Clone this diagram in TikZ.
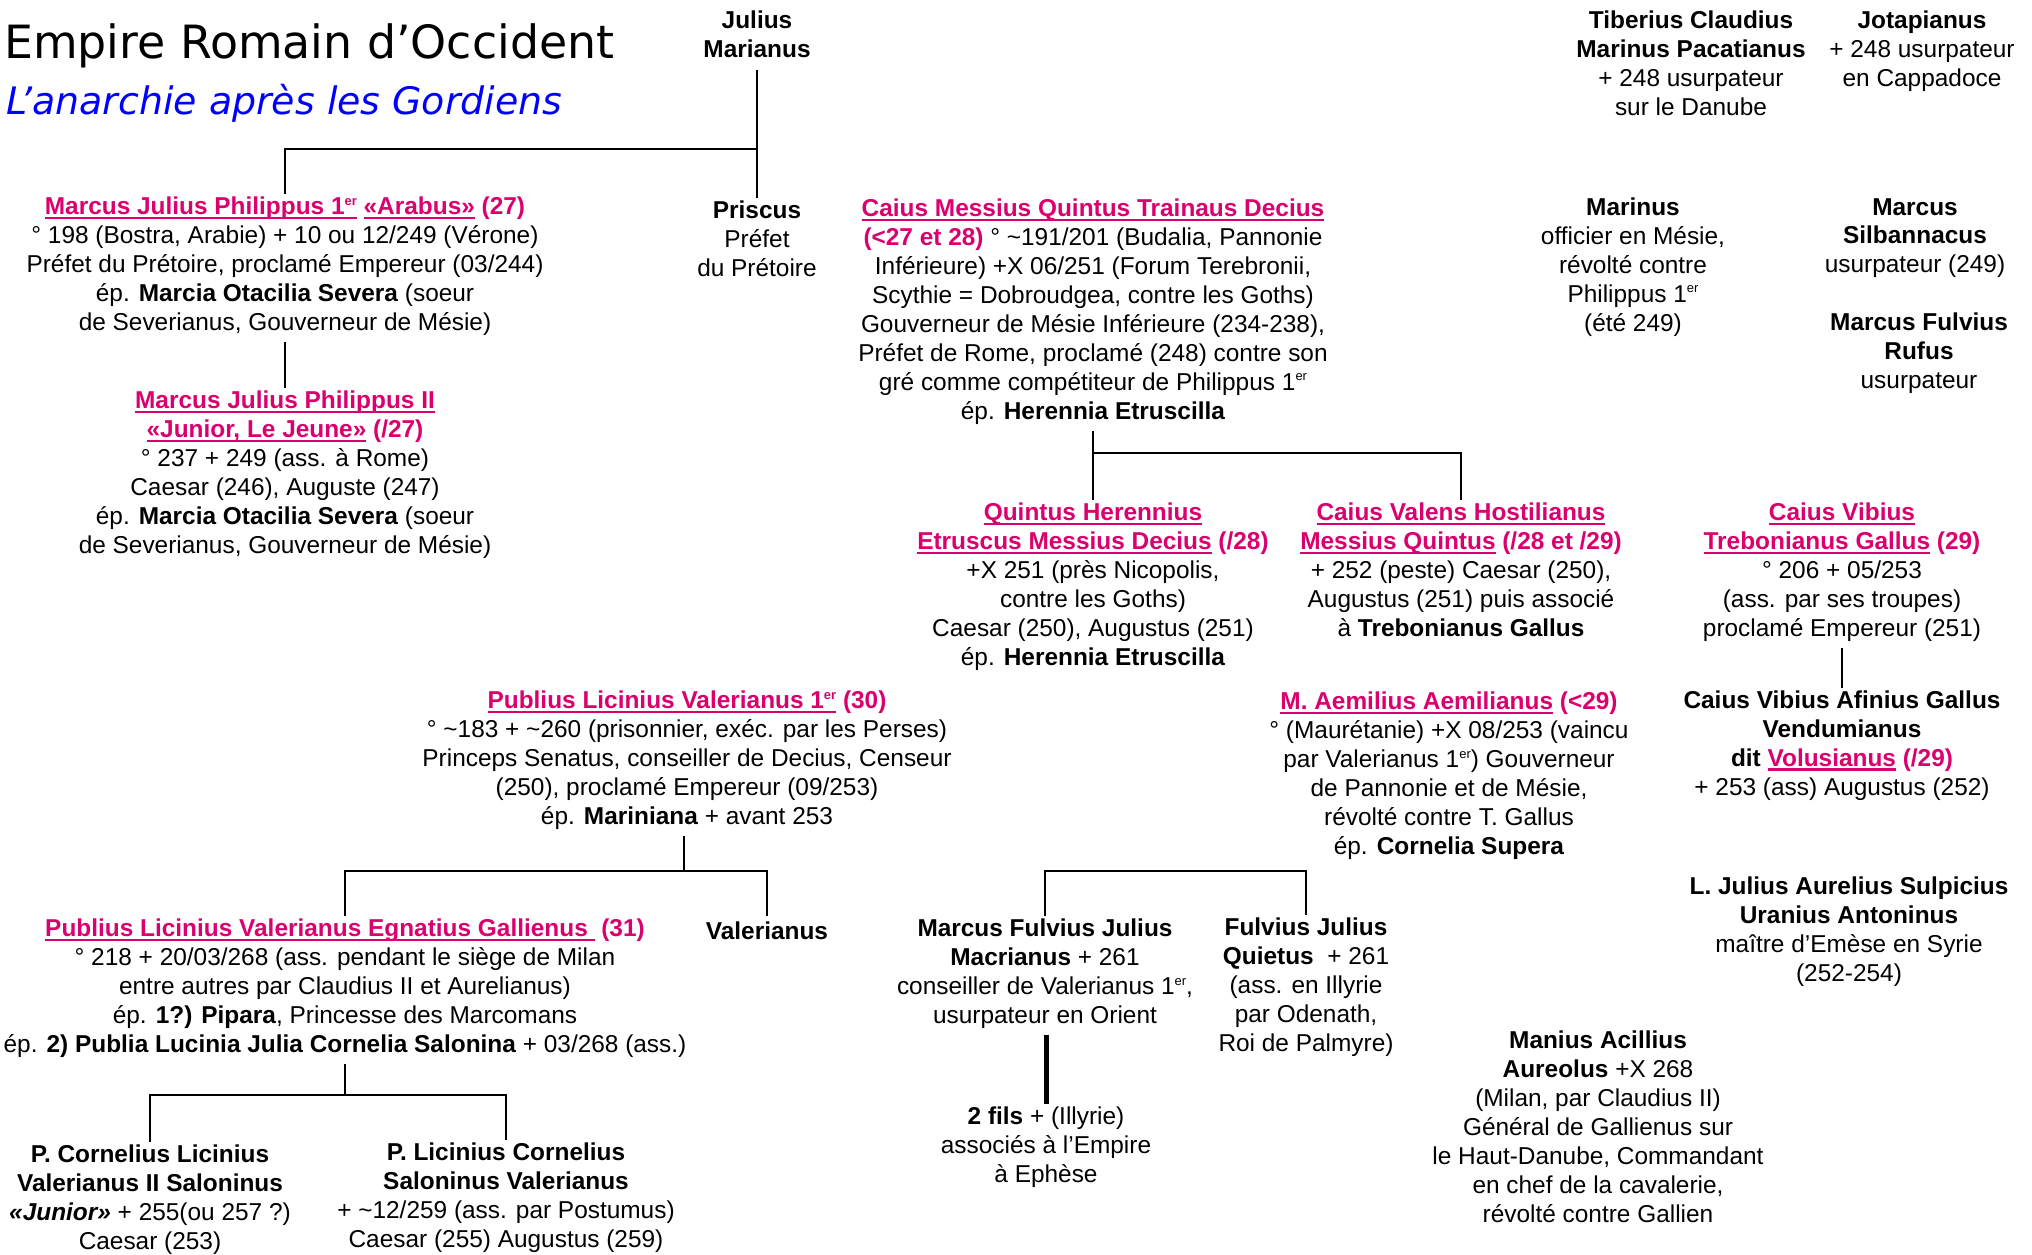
\documentclass[tikz,border=0pt]{standalone}
\usepackage{fontspec}
\setmainfont{Liberation Sans}
\newfontfamily\titlefont{DejaVu Sans}
\usepackage{tikz}

\definecolor{rose}{RGB}{218,0,110}
\newsavebox{\nombox}
\newcommand{\emp}[1]{{\color{rose}\bfseries\sbox{\nombox}{#1}\rlap{\rule[-4pt]{\wd\nombox}{2.2pt}}\usebox{\nombox}}}
\newcommand{\num}[1]{{\color{rose}\bfseries #1}}
\newcommand{\er}{\raisebox{0.75ex}{\fontsize{13}{13}\selectfont er}}

\begin{document}
\begin{tikzpicture}[x=1bp, y=-1bp,
    txt/.style={align=center, anchor=north, inner sep=3bp, font={\fontsize{24.5}{29}\selectfont}, execute at begin node=\strut},
    lien/.style={line width=2.5bp}]
\useasboundingbox (0,0) rectangle (2032,1254);

\node[anchor=base west, inner sep=0pt, font={\titlefont\fontsize{46}{50}\selectfont}] (t1) at (4,58) {Empire Romain d’Occident};
\node[anchor=base west, inner sep=0pt, text=blue, font={\titlefont\itshape\fontsize{38}{40}\selectfont}] (t2) at (6,114) {L’anarchie après les Gordiens};

\node[txt] (1) at (757, 8) {\textbf{Julius}\\ \textbf{Marianus}};
\node[txt] (2) at (285, 194) {\emp{Marcus Julius Philippus 1\er} \emp{«Arabus»} \num{(27)}\\ ° 198 (Bostra, Arabie) + 10 ou 12/249 (Vérone)\\ Préfet du Prétoire, proclamé Empereur (03/244)\\ ép. \textbf{Marcia Otacilia Severa} (soeur\\ de Severianus, Gouverneur de Mésie)};
\node[txt] (3) at (757, 198) {\textbf{Priscus}\\ Préfet\\ du Prétoire};
\node[txt] (4) at (285, 388) {\emp{Marcus Julius Philippus II}\\ \emp{«Junior, Le Jeune»} \num{(/27)}\\ ° 237 + 249 (ass. à Rome)\\ Caesar (246), Auguste (247)\\ ép. \textbf{Marcia Otacilia Severa} (soeur\\ de Severianus, Gouverneur de Mésie)};
\node[txt] (5) at (1093, 196) {\emp{Caius Messius Quintus Trainaus Decius}\\ \num{(<27 et 28)} ° \textasciitilde191/201 (Budalia, Pannonie\\ Inférieure) +X 06/251 (Forum Terebronii,\\ Scythie = Dobroudgea, contre les Goths)\\ Gouverneur de Mésie Inférieure (234-238),\\ Préfet de Rome, proclamé (248) contre son\\ gré comme compétiteur de Philippus 1\er\\ ép. \textbf{Herennia Etruscilla}};
\node[txt] (6) at (1093, 500) {\emp{Quintus Herennius}\\ \emp{Etruscus Messius Decius} \num{(/28)}\\ +X 251 (près Nicopolis,\\ contre les Goths)\\ Caesar (250), Augustus (251)\\ ép. \textbf{Herennia Etruscilla}};
\node[txt] (7) at (1461, 500) {\emp{Caius Valens Hostilianus}\\ \emp{Messius Quintus} \num{(/28 et /29)}\\ + 252 (peste) Caesar (250),\\ Augustus (251) puis associé\\ à \textbf{Trebonianus Gallus}};
\node[txt] (8) at (1691, 8) {\textbf{Tiberius Claudius}\\ \textbf{Marinus Pacatianus}\\ + 248 usurpateur\\ sur le Danube};
\node[txt] (9) at (1922, 8) {\textbf{Jotapianus}\\ + 248 usurpateur\\ en Cappadoce};
\node[txt] (10) at (1633, 195) {\textbf{Marinus}\\ officier en Mésie,\\ révolté contre\\ Philippus 1\er\\ (été 249)};
\node[txt] (11) at (1915, 195) {\textbf{Marcus}\\ \textbf{Silbannacus}\\ usurpateur (249)};
\node[txt] (12) at (1919, 310) {\textbf{Marcus Fulvius}\\ \textbf{Rufus}\\ usurpateur};
\node[txt] (13) at (1842, 500) {\emp{Caius Vibius}\\ \emp{Trebonianus Gallus} \num{(29)}\\ ° 206 + 05/253\\ (ass. par ses troupes)\\ proclamé Empereur (251)};
\node[txt] (14) at (1842, 688) {\textbf{Caius Vibius Afinius Gallus}\\ \textbf{Vendumianus}\\ \textbf{dit} \emp{Volusianus} \num{(/29)}\\ + 253 (ass) Augustus (252)};
\node[txt] (15) at (687, 688) {\emp{Publius Licinius Valerianus 1\er} \num{(30)}\\ ° \textasciitilde183 + \textasciitilde260 (prisonnier, exéc. par les Perses)\\ Princeps Senatus, conseiller de Decius, Censeur\\ (250), proclamé Empereur (09/253)\\ ép. \textbf{Mariniana} + avant 253};
\node[txt] (16) at (1449, 689) {\emp{M. Aemilius Aemilianus} \num{(<29)}\\ ° (Maurétanie) +X 08/253 (vaincu\\ par Valerianus 1\er) Gouverneur\\ de Pannonie et de Mésie,\\ révolté contre T. Gallus\\ ép. \textbf{Cornelia Supera}};
\node[txt] (17) at (345, 916) {\emp{Publius Licinius Valerianus Egnatius Gallienus\ } \num{(31)}\\ ° 218 + 20/03/268 (ass. pendant le siège de Milan\\ entre autres par Claudius II et Aurelianus)\\ ép. \textbf{1?) Pipara}, Princesse des Marcomans\\ ép. \textbf{2) Publia Lucinia Julia Cornelia Salonina} + 03/268 (ass.)};
\node[txt] (18) at (767, 916) {\textbf{Valerianus}};
\node[txt] (19) at (1045, 916) {\textbf{Marcus Fulvius Julius}\\ \textbf{Macrianus} + 261\\ conseiller de Valerianus 1\er,\\ usurpateur en Orient};
\node[txt] (20) at (1306, 915) {\textbf{Fulvius Julius}\\ \textbf{Quietus}\ \ + 261\\ (ass. en Illyrie\\ par Odenath,\\ Roi de Palmyre)};
\node[txt] (21) at (1046, 1104) {\textbf{2 fils} + (Illyrie)\\ associés à l’Empire\\ à Ephèse};
\node[txt] (22) at (1849, 874) {\textbf{L. Julius Aurelius Sulpicius}\\ \textbf{Uranius Antoninus}\\ maître d’Emèse en Syrie\\ (252-254)};
\node[txt] (23) at (1598, 1028) {\textbf{Manius Acillius}\\ \textbf{Aureolus} +X 268\\ (Milan, par Claudius II)\\ Général de Gallienus sur\\ le Haut-Danube, Commandant\\ en chef de la cavalerie,\\ révolté contre Gallien};
\node[txt] (24) at (150, 1142) {\textbf{P. Cornelius Licinius}\\ \textbf{Valerianus II Saloninus}\\ \textbf{\itshape «Junior»} + 255(ou 257 ?)\\ Caesar (253)};
\node[txt] (25) at (506, 1140) {\textbf{P. Licinius Cornelius}\\ \textbf{Saloninus Valerianus}\\ + \textasciitilde12/259 (ass. par Postumus)\\ Caesar (255) Augustus (259)};

\coordinate (b1) at (757, 149);
\coordinate (b2) at (1093, 453);
\coordinate (b3) at (684, 871);
\coordinate (b4) at (1175, 871);
\coordinate (b5) at (345, 1095);

\draw[lien] (1) -- (3);
\draw[lien] (b1) -| (2);
\draw[lien] (2) -- (4);
\draw[lien] (5) -- (6);
\draw[lien] (b2) -| (7);
\draw[lien] (13) -- (14);
\draw[lien] (15.south -| b3) -- (b3);
\draw[lien] (17) |- (b3) -| (18);
\draw[lien] (19) |- (b4) -| (20);
\draw[line width=5bp] (19.south -| 21) -- (21);
\draw[lien] (17) -- (b5);
\draw[lien] (24) |- (b5) -| (25);
\end{tikzpicture}
\end{document}
